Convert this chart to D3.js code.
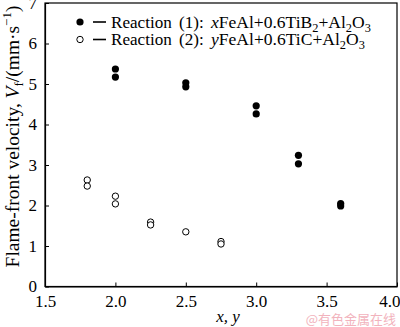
<!DOCTYPE html>
<html>
<head>
<meta charset="utf-8">
<script src="https://cdn.jsdelivr.net/npm/d3@7"></script>
<style>
  html, body { margin: 0; padding: 0; background: #fff; }
  svg { display: block; }
  text { font-family: "Liberation Serif", "Times New Roman", serif; fill: #000; }
</style>
</head>
<body>
<svg id="chart" width="400" height="327"></svg>
<script>
// Reaction (1): xFeAl + 0.6TiB2 + Al2O3 (filled markers)
const r1X = [2.0, 2.0, 2.5, 2.5, 3.0, 3.0, 3.3, 3.3, 3.6, 3.6];
const r1V = [5.37, 5.17, 5.03, 4.93, 4.46, 4.26, 3.24, 3.03, 2.05, 1.99];
// Reaction (2): yFeAl + 0.6TiC + Al2O3 (open markers)
const r2X = [1.8, 1.8, 2.0, 2.0, 2.25, 2.25, 2.5, 2.75, 2.75];
const r2V = [2.63, 2.48, 2.23, 2.04, 1.59, 1.52, 1.35, 1.11, 1.05];
const xTicks = [1.5, 2.0, 2.5, 3.0, 3.5, 4.0];
const yTicks = [0, 1, 2, 3, 4, 5, 6, 7];

const SERIF = "'Liberation Serif', 'Times New Roman', serif";
const svg = d3.select("#chart");
const m = { left: 45, right: 397, top: 3, bottom: 286.5 };

const x = d3.scaleLinear().domain([1.5, 4.0]).range([m.left, m.right]);
const y = d3.scaleLinear().domain([0, 7]).range([m.bottom, m.top]);

// scale a text (and its sized tspans) so that it spans the given width
function fitWidth(sel, width) {
  const w = sel.node().getBBox().width;
  const k = width / w;
  const scaleSize = s => {
    const fs = parseFloat(s.style("font-size"));
    s.style("font-size", (fs * k) + "px");
  };
  sel.selectAll("tspan").each(function () {
    const s = d3.select(this);
    if (this.style.fontSize) scaleSize(s);
    const dy = s.attr("dy");
    if (dy) s.attr("dy", parseFloat(dy) * k);
  });
  scaleSize(sel);
}

// frame
svg.append("rect")
  .attr("x", m.left).attr("y", m.top)
  .attr("width", m.right - m.left).attr("height", m.bottom - m.top)
  .attr("fill", "none").attr("stroke", "#000").attr("stroke-width", 1.2);

// axes with inward ticks
const xAxis = svg.append("g").attr("transform", `translate(0,${m.bottom})`)
  .call(d3.axisBottom(x).tickValues(xTicks).tickFormat(d3.format(".1f"))
    .tickSizeInner(-4).tickSizeOuter(0).tickPadding(8));
const yAxis = svg.append("g").attr("transform", `translate(${m.left},0)`)
  .call(d3.axisLeft(y).tickValues(yTicks).tickFormat(d3.format("d"))
    .tickSizeInner(-4).tickSizeOuter(0).tickPadding(8));
[xAxis, yAxis].forEach(g => {
  g.attr("font-family", null).attr("font-size", null);
  g.select(".domain").attr("stroke", "#000").attr("stroke-width", 1.2);
  g.selectAll(".tick line").attr("stroke", "#000").attr("stroke-width", 1);
  g.selectAll(".tick text").style("font-size", "17px")
    .style("font-family", SERIF).style("fill", "#000");
});
// last x label is kept inside the canvas
xAxis.selectAll(".tick text").filter(d => d === 4.0)
  .attr("text-anchor", "end").attr("x", 400 - x(4.0));

// markers
const rad = 3.6;
svg.append("g").selectAll("circle").data(r1X.map((d, i) => [d, r1V[i]]))
  .join("circle")
  .attr("cx", d => x(d[0])).attr("cy", d => y(d[1])).attr("r", rad)
  .attr("fill", "#000");
svg.append("g").selectAll("circle").data(r2X.map((d, i) => [d, r2V[i]]))
  .join("circle")
  .attr("cx", d => x(d[0])).attr("cy", d => y(d[1])).attr("r", rad - 0.4)
  .attr("fill", "#fff").attr("stroke", "#000").attr("stroke-width", 1);

// legend
const legend = svg.append("g");
function legendRow(yy, filled, label, varName, parts, formulaWidth) {
  legend.append("circle").attr("cx", 80).attr("cy", yy).attr("r", filled ? 3.6 : 3.2)
    .attr("fill", filled ? "#000" : "#fff").attr("stroke", "#000").attr("stroke-width", filled ? 0 : 1);
  legend.append("line").attr("x1", 93).attr("x2", 106).attr("y1", yy).attr("y2", yy)
    .attr("stroke", "#000").attr("stroke-width", 1.6);
  const l = legend.append("text").attr("x", 111).attr("y", yy + 5.5)
    .style("font-size", "16px").attr("word-spacing", 3).text(label);
  fitWidth(l, 93);
  const t = legend.append("text").attr("x", 211).attr("y", yy + 5.5).style("font-size", "17px");
  t.append("tspan").attr("font-style", "italic").text(varName);
  let sub = false;
  parts.forEach(([s, isSub]) => {
    const dy = isSub && !sub ? 4 : (!isSub && sub ? -4 : 0);
    t.append("tspan").attr("dy", dy || null).style("font-size", isSub ? "12px" : "17px").text(s);
    sub = isSub;
  });
  fitWidth(t, formulaWidth);
}
legendRow(22, true, "Reaction (1):", "x",
  [["FeAl+0.6TiB", false], ["2", true], ["+Al", false], ["2", true], ["O", false], ["3", true]], 161);
legendRow(39.5, false, "Reaction (2):", "y",
  [["FeAl+0.6TiC+Al", false], ["2", true], ["O", false], ["3", true]], 156);

// y-axis title
const yt = svg.append("text")
  .attr("transform", `translate(19,${136.5}) rotate(-90)`)
  .attr("text-anchor", "middle").style("font-size", "18px");
yt.append("tspan").text("Flame-front velocity, ");
yt.append("tspan").attr("font-style", "italic").text("V");
yt.append("tspan").attr("dy", 4).style("font-size", "12px").text("f");
yt.append("tspan").attr("dy", -4).text("/(mm\u00b7s");
yt.append("tspan").attr("dy", -7).style("font-size", "12px").text("\u22121");
yt.append("tspan").attr("dy", 7).text(")");
fitWidth(yt, 262);

// x-axis title
svg.append("text").attr("x", 228).attr("y", 322).attr("text-anchor", "middle")
  .style("font-size", "17px").attr("font-style", "italic").text("x, y");

// watermark
svg.append("text").attr("x", 396).attr("y", 323.5).attr("text-anchor", "end")
  .style("font-family", "'Noto Sans CJK SC', sans-serif").style("font-size", "13px")
  .style("fill", "#f2b3bd").text("@有色金属在线");
</script>
</body>
</html>
